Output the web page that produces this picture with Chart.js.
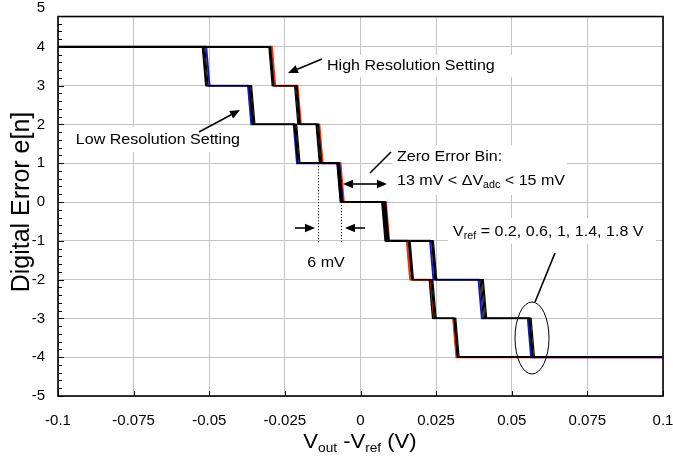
<!DOCTYPE html>
<html><head><meta charset="utf-8">
<script src="https://cdn.jsdelivr.net/npm/chart.js@4/dist/chart.umd.min.js"></script>
<style>html,body{margin:0;padding:0;background:#fff}#wrap{width:673px;height:462px;position:relative}</style>
</head><body><div id="wrap"><canvas id="c" width="673" height="462"></canvas></div>
<script>
// ---- data (transition positions, mV, one per code step 4->3 ... -3->-4) ----
const codeLevels = [4, 3, 2, 1, 0, -1, -2, -3, -4];
const hiResVref02 = [-29.3, -20.8, -13.6, -6.6, 8.4, 15.3, 23.0, 30.6];
const hiResVref06 = [-30.3, -21.8, -14.5, -7.8, 7.0, 15.8, 22.7, 30.9];
const hiResVref10 = [-30.0, -21.5, -14.2, -7.4, 7.4, 16.1, 23.3, 31.2];
const hiResVref14 = [-29.7, -21.2, -13.9, -7.1, 7.8, 16.4, 23.6, 31.5];
const hiResVref18 = [-29.9, -21.0, -14.7, -7.6, 8.1, 16.0, 23.9, 31.0];
const loResVref02 = [-51.0, -37.2, -22.1, -7.0, 7.6, 23.0, 39.0, 55.3];
const loResVref06 = [-52.1, -36.6, -21.7, -7.7, 7.2, 23.5, 39.5, 55.7];
const loResVref10 = [-51.8, -36.3, -21.4, -7.3, 7.6, 23.8, 39.9, 56.0];
const loResVref14 = [-51.5, -36.0, -21.1, -7.0, 8.0, 24.1, 40.3, 56.4];
const loResVref18 = [-52.3, -36.8, -21.9, -7.5, 8.3, 23.7, 40.6, 55.9];
const xTickValues = [-0.1, -0.075, -0.05, -0.025, 0, 0.025, 0.05, 0.075, 0.1];
const xTickLabels = ['-0.1', '-0.075', '-0.05', '-0.025', '0', '0.025', '0.05', '0.075', '0.1'];
const yTickValues = [-5, -4, -3, -2, -1, 0, 1, 2, 3, 4, 5];
const yTickLabels = ['-5', '-4', '-3', '-2', '-1', '0', '1', '2', '3', '4', '5'];
const dottedMarkers = [[-0.0140, 1, -1.05], [-0.0064, 0, -1.05]]; // x, yTop, yBottom

const FONT = '"Liberation Sans", Arial, sans-serif';
const SLANT = 0.0011;
const XMIN = -0.1, XMAX = 0.1, YTOPFRAME = 4.78;

function buildTrace(trans) {
  const pts = [{x: XMIN, y: codeLevels[0]}];
  trans.forEach((t, i) => {
    pts.push({x: t / 1000, y: codeLevels[i]});
    pts.push({x: t / 1000 + SLANT, y: codeLevels[i + 1]});
  });
  pts.push({x: XMAX, y: codeLevels[codeLevels.length - 1]});
  return pts;
}
function ds(label, trans, color, width, order) {
  return {label, data: buildTrace(trans), borderColor: color, borderWidth: width,
          showLine: true, pointRadius: 0, fill: false, tension: 0, order};
}
const datasets = [
  ds('Low 1.8', loResVref18, '#000', 1.2, 1),
  ds('Low 1.4', loResVref14, '#000', 1.2, 1),
  ds('Low 1.0', loResVref10, '#000', 1.2, 1),
  ds('Low 0.6', loResVref06, '#000', 1.2, 1),
  ds('High 1.8', hiResVref18, '#000', 1.2, 1),
  ds('High 1.4', hiResVref14, '#000', 1.2, 1),
  ds('High 1.0', hiResVref10, '#000', 1.2, 1),
  ds('High 0.6', hiResVref06, '#000', 1.2, 1),
  ds('Low 0.2', loResVref02, '#1414c8', 1.9, 2),
  ds('High 0.2', hiResVref02, '#ff2a00', 1.9, 2)
];

function drawParts(ctx, parts, x, y, align, sx) {
  const w = parts.map(p => { ctx.font = p[1] + 'px ' + FONT; return ctx.measureText(p[0]).width; });
  const total = w.reduce((a, b) => a + b, 0) * sx;
  let cx = align === 'center' ? x - total / 2 : align === 'right' ? x - total : x;
  parts.forEach((p, i) => {
    ctx.font = p[1] + 'px ' + FONT;
    ctx.save(); ctx.translate(cx, y + (p[2] || 0)); ctx.scale(sx, 1);
    ctx.textAlign = 'left'; ctx.textBaseline = 'alphabetic';
    ctx.fillText(p[0], 0, 0); ctx.restore();
    cx += w[i] * sx;
  });
}
function arrow(ctx, x1, y1, x2, y2) {
  const a = Math.atan2(y2 - y1, x2 - x1), L = 10, H = 4.2;
  const bx = x2 - L * Math.cos(a), by = y2 - L * Math.sin(a);
  ctx.beginPath(); ctx.moveTo(x1, y1); ctx.lineTo(bx, by); ctx.stroke();
  ctx.beginPath(); ctx.moveTo(x2, y2);
  ctx.lineTo(bx + H * Math.sin(a), by - H * Math.cos(a));
  ctx.lineTo(bx - H * Math.sin(a), by + H * Math.cos(a));
  ctx.closePath(); ctx.fill();
}

const decor = {
  id: 'decor',
  beforeDatasetsDraw(chart) {
    const {ctx, chartArea: a, scales: {y}} = chart;
    const ft = y.getPixelForValue(YTOPFRAME);
    ctx.save();
    ctx.fillStyle = '#fff';
    ctx.fillRect(a.left - 3, 0, a.right - a.left + 8, ft);
    // white text boxes
    ctx.fillRect(323, 55, 208, 22);
    ctx.fillRect(66, 127, 178, 25);
    ctx.fillRect(392, 145, 175, 50);
    ctx.fillRect(448, 218, 208, 25.5);
    // dotted markers
    ctx.strokeStyle = '#000'; ctx.lineWidth = 1; ctx.setLineDash([1, 2]);
    dottedMarkers.forEach(m => {
      const xp = Math.round(chart.scales.x.getPixelForValue(m[0])) + 0.5;
      ctx.beginPath(); ctx.moveTo(xp, y.getPixelForValue(m[1])); ctx.lineTo(xp, y.getPixelForValue(m[2])); ctx.stroke();
    });
    ctx.restore();
  },
  afterDraw(chart) {
    const {ctx, chartArea: a, scales: {x, y}} = chart;
    const ft = y.getPixelForValue(YTOPFRAME);
    ctx.save();
    ctx.strokeStyle = '#000'; ctx.fillStyle = '#000';
    // ticks
    ctx.lineWidth = 1;
    ctx.beginPath();
    for (let k = -25; k < 24; k++) {
      const v = k / 5, yp = Math.round(y.getPixelForValue(v)) + 0.5;
      const len = (k % 5 === 0) ? 6 : 4;
      ctx.moveTo(a.left, yp); ctx.lineTo(a.left + len, yp);
    }
    xTickValues.forEach(v => {
      const xp = Math.round(x.getPixelForValue(v)) + 0.5;
      ctx.moveTo(xp, a.bottom); ctx.lineTo(xp, a.bottom - 5);
    });
    ctx.stroke();
    // frame
    ctx.lineWidth = 1.6;
    ctx.strokeRect(a.left, ft, a.right - a.left, a.bottom - ft);
    // arrows
    ctx.lineWidth = 1.6;
    arrow(ctx, 322, 59, 288, 73);
    arrow(ctx, 199, 132, 240, 110);
    arrow(ctx, 365, 184, 343, 184);
    arrow(ctx, 365, 184, 387, 184);
    arrow(ctx, 295, 228, 315, 228);
    arrow(ctx, 365, 228, 345, 228);
    ctx.beginPath(); ctx.moveTo(370, 173); ctx.lineTo(391, 152); ctx.stroke();
    ctx.beginPath(); ctx.moveTo(555, 253); ctx.lineTo(535, 302); ctx.stroke();
    ctx.lineWidth = 1;
    ctx.beginPath(); ctx.ellipse(532, 338, 17, 36, 0, 0, Math.PI * 2); ctx.stroke();
    // annotation texts
    const S = 15, SX = 1.07, SUB = 10;
    drawParts(ctx, [['High Resolution Setting', S]], 327, 70, 'left', SX);
    drawParts(ctx, [['Low Resolution Setting', S]], 240, 144, 'right', SX);
    drawParts(ctx, [['Zero Error Bin:', S]], 397, 161, 'left', SX);
    drawParts(ctx, [['13 mV < \u0394V', S], ['adc', SUB, 3], [' < 15 mV', S]], 397, 185, 'left', SX);
    drawParts(ctx, [['6 mV', S]], 326, 267, 'center', SX);
    drawParts(ctx, [['V', S], ['ref', SUB, 3], [' = 0.2, 0.6, 1, 1.4, 1.8 V', S]], 453, 236, 'left', SX);
    // axis titles
    drawParts(ctx, [['V', 21], ['out', 13, 4], [' -V', 21], ['ref', 13, 4], [' (V)', 21]], 360, 448, 'center', 1.05);
    ctx.save(); ctx.translate(29, 202); ctx.rotate(-Math.PI / 2);
    drawParts(ctx, [['Digital Error e[n]', 25]], 0, 0, 'center', 1.0);
    ctx.restore();
    ctx.restore();
  }
};

new Chart(document.getElementById('c'), {
  type: 'scatter',
  data: {datasets},
  options: {
    responsive: false, animation: false, devicePixelRatio: 1,
    layout: {padding: {top: 8, right: 10, left: 0, bottom: 0}},
    plugins: {legend: {display: false}, tooltip: {enabled: false}},
    scales: {
      x: {
        type: 'linear', min: XMIN, max: XMAX,
        afterFit: s => { s.height = 66; s.paddingLeft = 0; s.paddingRight = 0; },
        afterBuildTicks: s => { s.ticks = xTickValues.map(v => ({value: v})); },
        ticks: {callback: (v, i) => xTickLabels[i], color: '#000', font: {family: FONT, size: 15}, padding: 16, maxRotation: 0, autoSkip: false},
        grid: {color: '#c4c4c4', lineWidth: 1, drawTicks: false},
        border: {display: false}
      },
      y: {
        type: 'linear', min: -5, max: 5,
        afterFit: s => { s.width = 58; s.paddingTop = 0; s.paddingBottom = 0; },
        afterBuildTicks: s => { s.ticks = yTickValues.map(v => ({value: v})); },
        ticks: {callback: (v, i) => yTickLabels[i], color: '#000', font: {family: FONT, size: 15}, padding: 13, autoSkip: false},
        grid: {color: '#c4c4c4', lineWidth: 1, drawTicks: false},
        border: {display: false}
      }
    }
  },
  plugins: [decor]
});
</script>
</body></html>
